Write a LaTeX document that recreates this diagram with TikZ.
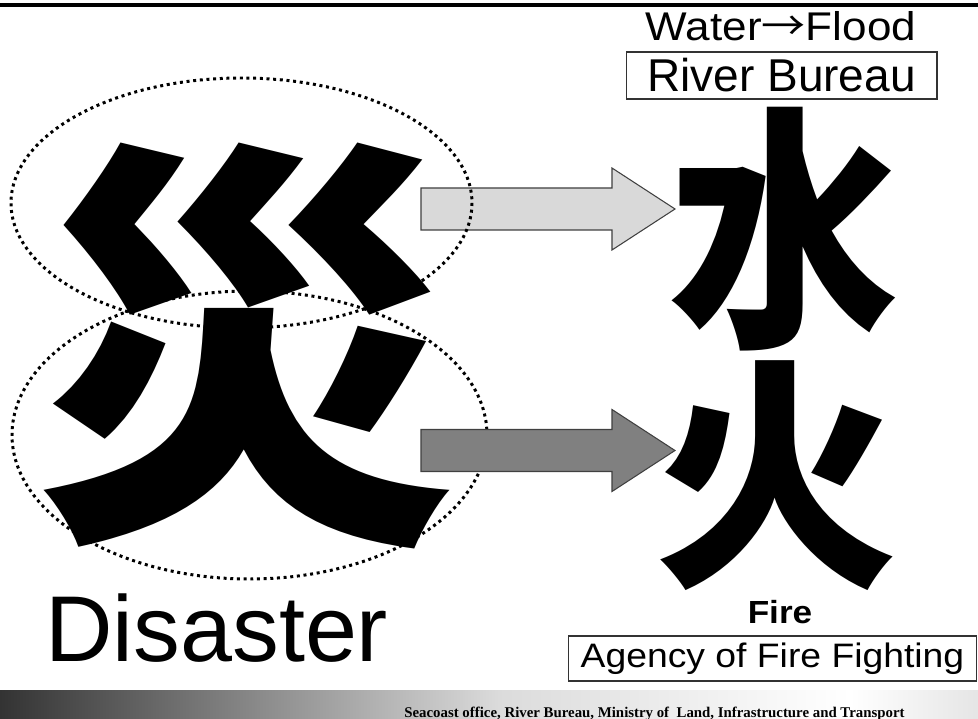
\documentclass[tikz,border=0pt]{standalone}
\usepackage{fontspec}
\setmainfont{Liberation Sans}
\newfontfamily\footerfont{Liberation Serif}
\newfontfamily\cjk{Noto Sans CJK JP}
\usetikzlibrary{calc}
\def\blockarrow[#1](#2){\draw[#1] (421,#2-21) -- (612,#2-21) -- (612,#2-41) -- (675,#2) -- (612,#2+41) -- (612,#2+21) -- (421,#2+21) -- cycle;}

\begin{document}
\begin{tikzpicture}[x=0.02cm,y=-0.02cm,
		kanji/.style={inner sep=0pt},
		titlebox/.style={draw=black!80, line width=0.6pt, inner sep=0pt, text depth=0pt},
		dotring/.style={line width=1.7pt, dash pattern=on 1.7pt off 2.1pt},
		arrowbody/.style={draw=black!75, line width=0.6pt}]
		%%%%% START %%%%%
		\useasboundingbox (0,0) rectangle (978,719);
		\fill[white] (0,0) rectangle (978,719);
		\draw[line width=2pt] (0,5) -- (978,5);
		
		\node[kanji, font=\cjk\bfseries\fontsize{242}{242}\selectfont] (zai) at (245,346) {災};
		\node[kanji, font=\cjk\bfseries\fontsize{146}{146}\selectfont] (mizu) at (784,229) {\scalebox{0.9}[1]{水}};
		\node[kanji, font=\cjk\bfseries\fontsize{140}{140}\selectfont] (hi) at (776,476) {火};
		
		\draw[dotring] (249.5,435) ellipse (237.5 and 144);
		\blockarrow[arrowbody, fill=gray](450.5)
		\blockarrow[arrowbody, fill=black!15](209)
		\draw[dotring] (241.5,203) ellipse (230.5 and 125);
		
		\node[inner sep=0pt, text height=0.58cm, font=\fontsize{22.8}{24}\selectfont] (water) at (781,26) {\scalebox{1.1}[1]{Water{\cjk →}Flood}};
		\node[titlebox, text height=0.66cm, minimum width=6.22cm, minimum height=0.94cm, font=\fontsize{26.2}{28}\selectfont] (river) at (781.5,75.5) {River Bureau};
		
		\node[inner sep=0pt, text height=0.46cm, font=\bfseries\fontsize{18.2}{20}\selectfont] (fire) at (780,612) {\scalebox{1.1}[1]{Fire}};
		\node[titlebox, text height=0.49cm, text depth=0.136cm, minimum width=8.18cm, minimum height=0.9cm, font=\fontsize{19.3}{21}\selectfont] (agency) at (772.5,658.5) {\scalebox{1.1}[1]{Agency of Fire Fighting}};
		
		\node[anchor=base west, inner sep=0pt, font=\fontsize{53.2}{60}\selectfont] (disaster) at (45,662) {Disaster};
		
		% bottom bar
		\shade[left color=black!80, right color=black!14] (0,691) rectangle (500,719);
		\shade[left color=black!14, right color=white] (499.5,691) rectangle (850,719);
		\shade[left color=white, right color=black!10] (849.5,691) rectangle (978,719);
		\node[anchor=base west, inner sep=0pt, font=\footerfont\bfseries\fontsize{8.45}{10}\selectfont] (footer) at (404,718) {Seacoast office, River Bureau, Ministry of\ \ Land, Infrastructure and Transport};
		%%%%% END %%%%%
	\end{tikzpicture}
\end{document}
